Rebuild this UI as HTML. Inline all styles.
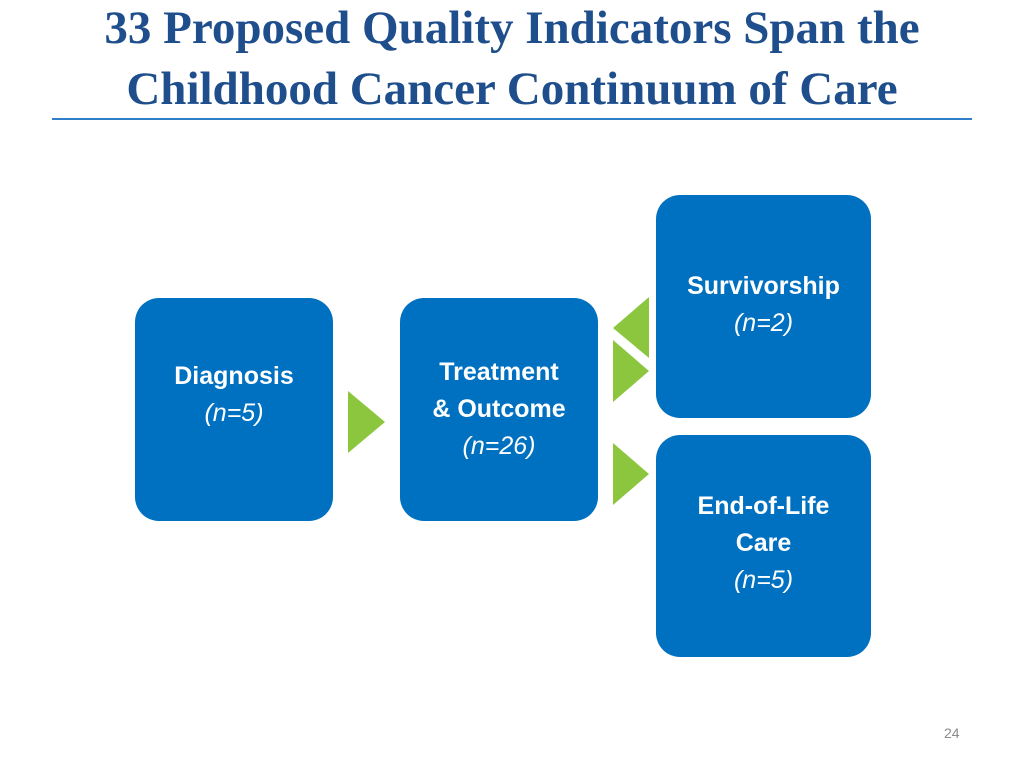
<!DOCTYPE html>
<html><head><meta charset="utf-8"><style>
body{margin:0;width:1024px;height:768px;background:#fff;position:relative;overflow:hidden;font-family:"Liberation Sans",sans-serif}
.title{position:absolute;left:0;width:1024px;top:0;text-align:center;font-family:"Liberation Serif",serif;font-weight:bold;font-size:47px;line-height:61px;color:#1f4e8c}
.rule{position:absolute;left:52px;top:118px;width:920px;height:2px;background:#2e7fc7}
.box{position:absolute;background:#0070c0;border-radius:24px;color:#fff;display:flex;flex-direction:column;justify-content:center;align-items:center;text-align:center;font-weight:bold;font-size:25px;line-height:37px}
.box i{font-weight:normal}
.pg{position:absolute;left:944px;top:725px;font-size:14px;color:#8a8a8a}
</style></head><body>
<div class="title" style="top:-2px">33 Proposed Quality Indicators Span the<br>Childhood Cancer Continuum of Care</div>
<div class="rule"></div>
<div class="box" style="left:135px;top:298px;width:198px;height:223px;padding-bottom:30px;box-sizing:border-box">Diagnosis<i>(n=5)</i></div>
<div class="box" style="left:400px;top:298px;width:198px;height:223px">Treatment<br>&amp; Outcome<i>(n=26)</i></div>
<div class="box" style="left:656px;top:195px;width:215px;height:223px;padding-bottom:4px;box-sizing:border-box">Survivorship<i>(n=2)</i></div>
<div class="box" style="left:656px;top:435px;width:215px;height:222px;padding-bottom:6px;box-sizing:border-box">End-of-Life<br>Care<i>(n=5)</i></div>
<svg width="1024" height="768" style="position:absolute;left:0;top:0">
<polygon points="348,391 385,422 348,453" fill="#8cc63f"/>
<polygon points="613,328 649,297 649,358" fill="#8cc63f"/>
<polygon points="613,340 649,371 613,402" fill="#8cc63f"/>
<polygon points="613,443 649,474 613,505" fill="#8cc63f"/>
</svg>
<div class="pg">24</div>
</body></html>
